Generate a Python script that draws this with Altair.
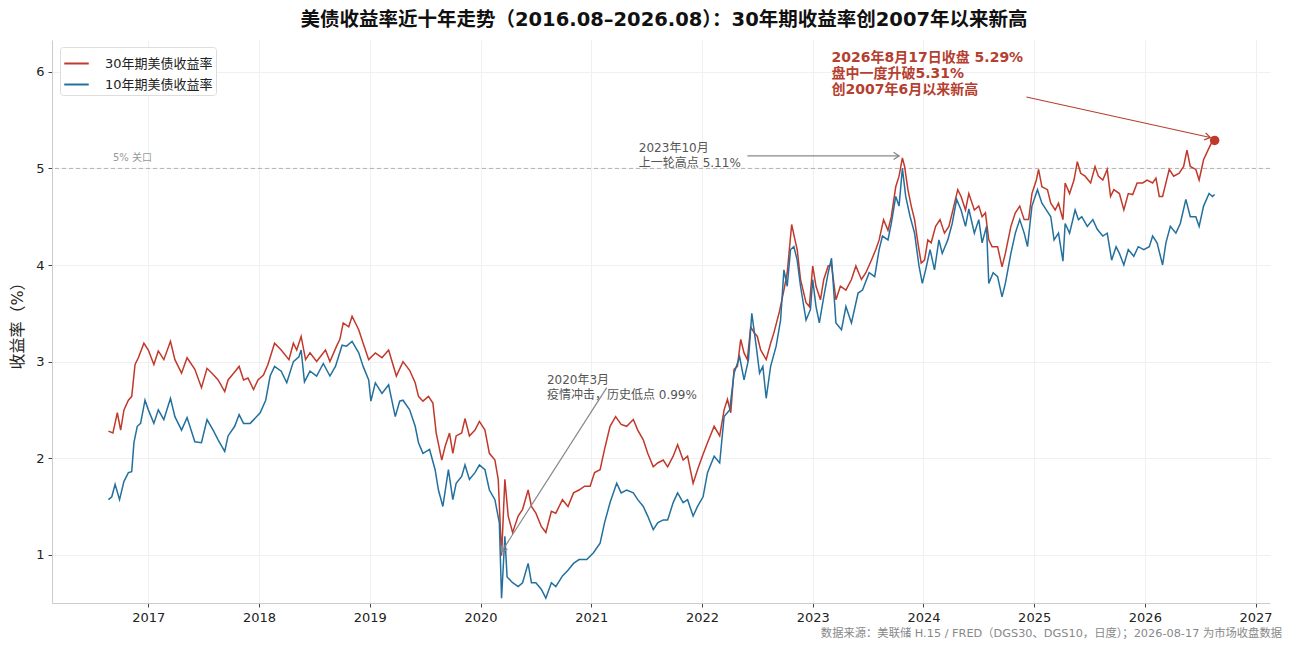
import altair as alt
import pandas as pd

# ---------------- data ----------------
t30 = [2016.64, 2016.68, 2016.72, 2016.75, 2016.78, 2016.82, 2016.85, 2016.88, 2016.91, 2016.96,
       2017.00, 2017.05, 2017.09, 2017.14, 2017.20, 2017.24, 2017.30, 2017.35, 2017.42, 2017.48,
       2017.53, 2017.59, 2017.63, 2017.69, 2017.72, 2017.77, 2017.82, 2017.86, 2017.90, 2017.95,
       2017.99, 2018.04, 2018.08, 2018.14, 2018.20, 2018.27, 2018.31, 2018.34, 2018.38, 2018.42,
       2018.46, 2018.52, 2018.60, 2018.64, 2018.70, 2018.73, 2018.76, 2018.81, 2018.84, 2018.90,
       2018.94, 2018.99, 2019.05, 2019.11, 2019.17, 2019.24, 2019.30, 2019.36, 2019.41, 2019.44,
       2019.48, 2019.53, 2019.57, 2019.60, 2019.65, 2019.68, 2019.72, 2019.75, 2019.78, 2019.83,
       2019.86, 2019.90, 2019.95, 2019.99, 2020.04, 2020.08, 2020.13, 2020.16, 2020.19, 2020.22,
       2020.25, 2020.29, 2020.34, 2020.38, 2020.43, 2020.46, 2020.50, 2020.55, 2020.59, 2020.64,
       2020.68, 2020.74, 2020.79, 2020.84, 2020.89, 2020.94, 2020.99, 2021.03, 2021.08, 2021.12,
       2021.17, 2021.22, 2021.27, 2021.32, 2021.38, 2021.42, 2021.47, 2021.51, 2021.56, 2021.60,
       2021.65, 2021.69, 2021.74, 2021.78, 2021.83, 2021.87, 2021.92, 2021.96, 2022.01, 2022.05,
       2022.11, 2022.16, 2022.20, 2022.23, 2022.26, 2022.29, 2022.32, 2022.35, 2022.38, 2022.41,
       2022.44, 2022.47, 2022.50, 2022.53, 2022.58, 2022.62, 2022.65, 2022.70, 2022.74, 2022.77,
       2022.81, 2022.84, 2022.86, 2022.89, 2022.94, 2022.97, 2023.00, 2023.03, 2023.07, 2023.10,
       2023.14, 2023.17, 2023.21, 2023.25, 2023.30, 2023.35, 2023.39, 2023.44, 2023.48, 2023.53,
       2023.57, 2023.60, 2023.64, 2023.68, 2023.71, 2023.75, 2023.78, 2023.81, 2023.83, 2023.86,
       2023.89, 2023.92, 2023.95, 2023.98, 2024.01, 2024.04, 2024.07, 2024.11, 2024.15, 2024.19,
       2024.23, 2024.26, 2024.31, 2024.34, 2024.38, 2024.41, 2024.46, 2024.50, 2024.53, 2024.56,
       2024.59, 2024.62, 2024.67, 2024.71, 2024.74, 2024.79, 2024.83, 2024.87, 2024.91, 2024.95,
       2024.98, 2025.02, 2025.04, 2025.07, 2025.12, 2025.15, 2025.19, 2025.22, 2025.26, 2025.28,
       2025.32, 2025.36, 2025.39, 2025.42, 2025.46, 2025.51, 2025.55, 2025.58, 2025.62, 2025.66,
       2025.69, 2025.72, 2025.77, 2025.81, 2025.85, 2025.89, 2025.93, 2025.98, 2026.02, 2026.07,
       2026.10, 2026.13, 2026.16, 2026.22, 2026.26, 2026.31, 2026.35, 2026.38, 2026.41, 2026.46,
       2026.49, 2026.53, 2026.57, 2026.60, 2026.63]
y30 = [2.28, 2.26, 2.47, 2.29, 2.50, 2.60, 2.64, 2.97, 3.04, 3.19,
       3.12, 2.97, 3.11, 3.02, 3.21, 3.02, 2.88, 3.04, 2.92, 2.73,
       2.93, 2.86, 2.81, 2.69, 2.81, 2.88, 2.95, 2.81, 2.83, 2.71,
       2.81, 2.86, 2.97, 3.19, 3.12, 3.02, 3.19, 3.12, 3.26, 3.02,
       3.09, 3.00, 3.12, 3.00, 3.16, 3.23, 3.40, 3.36, 3.47, 3.33,
       3.19, 3.02, 3.09, 3.04, 3.12, 2.85, 3.00, 2.91, 2.78, 2.64,
       2.59, 2.64, 2.57, 2.26, 1.98, 2.12, 2.26, 2.05, 2.23, 2.26,
       2.41, 2.23, 2.29, 2.38, 2.29, 2.05, 1.98, 1.78, 0.99, 1.78,
       1.40, 1.23, 1.40, 1.47, 1.67, 1.50, 1.43, 1.29, 1.23, 1.45,
       1.43, 1.57, 1.50, 1.64, 1.67, 1.71, 1.71, 1.85, 1.88, 2.09,
       2.33, 2.43, 2.35, 2.33, 2.40, 2.29, 2.19, 2.05, 1.91, 1.95,
       1.98, 1.91, 2.02, 2.14, 1.98, 2.02, 1.74, 1.88, 2.04, 2.16,
       2.33, 2.23, 2.50, 2.61, 2.47, 2.92, 2.95, 3.23, 3.09, 3.02,
       3.36, 3.30, 3.26, 3.12, 3.02, 3.19, 3.30, 3.52, 3.74, 3.92,
       4.42, 4.26, 4.16, 3.85, 3.61, 3.57, 3.99, 3.78, 3.64, 3.85,
       3.99, 4.00, 3.64, 3.78, 3.74, 3.85, 3.99, 3.85, 3.92, 4.05,
       4.16, 4.26, 4.47, 4.36, 4.50, 4.81, 4.92, 5.11, 5.02, 4.78,
       4.61, 4.47, 4.23, 4.02, 4.05, 4.26, 4.23, 4.40, 4.47, 4.33,
       4.40, 4.54, 4.78, 4.71, 4.57, 4.74, 4.57, 4.61, 4.50, 4.54,
       4.26, 4.19, 4.19, 3.98, 4.12, 4.40, 4.54, 4.61, 4.47, 4.47,
       4.74, 4.88, 4.99, 4.81, 4.78, 4.64, 4.57, 4.64, 4.47, 4.85,
       4.74, 4.88, 5.07, 4.95, 4.92, 4.85, 5.02, 4.92, 4.88, 4.99,
       4.71, 4.78, 4.74, 4.57, 4.74, 4.73, 4.85, 4.85, 4.88, 4.85,
       4.90, 4.71, 4.71, 4.99, 4.92, 4.95, 5.02, 5.19, 5.02, 4.99,
       4.88, 5.09, 5.19, 5.26, 5.29]

t10 = [2016.64, 2016.67, 2016.70, 2016.74, 2016.78, 2016.82, 2016.85, 2016.87, 2016.90, 2016.93,
       2016.97, 2017.00, 2017.05, 2017.09, 2017.14, 2017.20, 2017.24, 2017.30, 2017.35, 2017.42,
       2017.48, 2017.53, 2017.59, 2017.63, 2017.69, 2017.72, 2017.78, 2017.82, 2017.86, 2017.92,
       2017.97, 2018.01, 2018.06, 2018.10, 2018.14, 2018.20, 2018.25, 2018.31, 2018.36, 2018.38,
       2018.41, 2018.46, 2018.52, 2018.58, 2018.64, 2018.69, 2018.75, 2018.79, 2018.84, 2018.90,
       2018.94, 2018.99, 2019.01, 2019.05, 2019.11, 2019.17, 2019.23, 2019.27, 2019.30, 2019.36,
       2019.41, 2019.44, 2019.48, 2019.54, 2019.59, 2019.62, 2019.66, 2019.71, 2019.75, 2019.78,
       2019.83, 2019.86, 2019.90, 2019.95, 2019.99, 2020.04, 2020.08, 2020.13, 2020.17, 2020.19,
       2020.22, 2020.24, 2020.29, 2020.34, 2020.38, 2020.43, 2020.46, 2020.50, 2020.55, 2020.59,
       2020.64, 2020.68, 2020.74, 2020.79, 2020.84, 2020.89, 2020.96, 2021.02, 2021.08, 2021.12,
       2021.17, 2021.23, 2021.27, 2021.32, 2021.38, 2021.42, 2021.47, 2021.51, 2021.56, 2021.60,
       2021.65, 2021.69, 2021.74, 2021.78, 2021.83, 2021.87, 2021.92, 2021.96, 2022.01, 2022.05,
       2022.11, 2022.16, 2022.20, 2022.25, 2022.29, 2022.34, 2022.38, 2022.42, 2022.45, 2022.49,
       2022.52, 2022.55, 2022.58, 2022.62, 2022.67, 2022.71, 2022.74, 2022.77, 2022.80, 2022.83,
       2022.86, 2022.89, 2022.94, 2022.98, 2023.00, 2023.03, 2023.06, 2023.10, 2023.14, 2023.17,
       2023.21, 2023.26, 2023.30, 2023.35, 2023.41, 2023.45, 2023.51, 2023.56, 2023.60, 2023.63,
       2023.68, 2023.71, 2023.75, 2023.78, 2023.81, 2023.84, 2023.88, 2023.92, 2023.96, 2023.99,
       2024.02, 2024.06, 2024.10, 2024.14, 2024.17, 2024.22, 2024.26, 2024.30, 2024.34, 2024.38,
       2024.41, 2024.46, 2024.50, 2024.53, 2024.57, 2024.59, 2024.63, 2024.67, 2024.71, 2024.74,
       2024.79, 2024.83, 2024.87, 2024.91, 2024.94, 2024.98, 2025.03, 2025.07, 2025.11, 2025.15,
       2025.18, 2025.22, 2025.26, 2025.28, 2025.32, 2025.37, 2025.40, 2025.43, 2025.48, 2025.53,
       2025.57, 2025.62, 2025.66, 2025.70, 2025.74, 2025.77, 2025.81, 2025.85, 2025.90, 2025.94,
       2025.99, 2026.04, 2026.07, 2026.11, 2026.16, 2026.19, 2026.23, 2026.28, 2026.32, 2026.37,
       2026.41, 2026.46, 2026.49, 2026.53, 2026.58, 2026.61, 2026.63]
y10 = [1.57, 1.60, 1.73, 1.57, 1.76, 1.85, 1.86, 2.16, 2.33, 2.36,
       2.60, 2.50, 2.36, 2.50, 2.40, 2.62, 2.43, 2.29, 2.42, 2.17,
       2.16, 2.40, 2.28, 2.19, 2.07, 2.23, 2.33, 2.45, 2.36, 2.36,
       2.42, 2.47, 2.60, 2.85, 2.95, 2.90, 2.78, 3.00, 3.05, 3.12,
       2.79, 2.90, 2.85, 2.98, 2.85, 2.95, 3.17, 3.16, 3.21, 3.09,
       2.95, 2.81, 2.59, 2.78, 2.67, 2.76, 2.43, 2.59, 2.60, 2.50,
       2.33, 2.16, 2.05, 2.09, 1.88, 1.67, 1.50, 1.88, 1.57, 1.74,
       1.81, 1.93, 1.78, 1.85, 1.93, 1.88, 1.67, 1.57, 1.33, 0.55,
       1.19, 0.77, 0.71, 0.67, 0.71, 0.91, 0.71, 0.71, 0.64, 0.55,
       0.71, 0.67, 0.78, 0.84, 0.91, 0.95, 0.95, 1.02, 1.12, 1.33,
       1.54, 1.74, 1.64, 1.67, 1.64, 1.57, 1.50, 1.40, 1.26, 1.33,
       1.36, 1.36, 1.54, 1.64, 1.54, 1.57, 1.40, 1.50, 1.60, 1.85,
       2.02, 1.95, 2.43, 2.50, 2.88, 3.05, 2.81, 3.02, 3.50, 3.16,
       2.88, 2.95, 2.62, 2.95, 3.16, 3.43, 3.95, 3.78, 4.16, 4.19,
       4.05, 3.78, 3.43, 3.54, 3.85, 3.57, 3.40, 3.67, 3.92, 4.07,
       3.40, 3.33, 3.57, 3.40, 3.71, 3.74, 3.92, 3.88, 4.16, 4.30,
       4.26, 4.43, 4.71, 4.61, 5.00, 4.71, 4.50, 4.33, 3.99, 3.81,
       3.95, 4.16, 3.95, 4.26, 4.12, 4.26, 4.43, 4.68, 4.57, 4.40,
       4.58, 4.33, 4.47, 4.23, 4.40, 3.81, 3.92, 3.88, 3.67, 3.81,
       4.12, 4.33, 4.47, 4.33, 4.19, 4.61, 4.78, 4.64, 4.57, 4.50,
       4.26, 4.33, 4.04, 4.43, 4.33, 4.57, 4.47, 4.50, 4.40, 4.47,
       4.37, 4.30, 4.33, 4.05, 4.19, 4.12, 4.00, 4.16, 4.09, 4.19,
       4.16, 4.19, 4.30, 4.23, 4.00, 4.23, 4.40, 4.33, 4.43, 4.68,
       4.50, 4.50, 4.40, 4.61, 4.74, 4.71, 4.73]

series_names = ["30年期美债收益率", "10年期美债收益率"]
series_colors = ["#c0392b", "#23709e"]
year_ticks = list(range(2017, 2028))
y_ticks = [1, 2, 3, 4, 5, 6]

title_text = "美债收益率近十年走势（2016.08–2026.08）：30年期收益率创2007年以来新高"
source_text = "数据来源：美联储 H.15 / FRED（DGS30、DGS10，日度）；2026-08-17 为市场收盘数据"
threshold = 5.0
threshold_label = "5% 关口"

peak_2023_lines = ["2023年10月", "上一轮高点 5.11%"]
low_2020_lines = ["2020年3月", "疫情冲击，历史低点 0.99%"]
latest_lines = ["2026年8月17日收盘 5.29%", "盘中一度升破5.31%", "创2007年6月以来新高"]
latest_point = (2026.63, 5.29)

FONT = "'DejaVu Sans', 'Noto Sans CJK SC', sans-serif"
RED_TXT = "#b5402f"
GREY_TXT = "#555555"

# ---------------- scales ----------------
xs = alt.Scale(domain=[2016.13, 2027.13], nice=False, zero=False)
ys = alt.Scale(domain=[0.5, 6.33], nice=False, zero=False)
cs = alt.Scale(domain=series_names, range=series_colors)

df30 = pd.DataFrame({"t": t30, "v": y30, "series": series_names[0]})
df10 = pd.DataFrame({"t": t10, "v": y10, "series": series_names[1]})

xaxis = alt.Axis(values=year_ticks, format="d", title=None, labelFontSize=13, labelFont=FONT,
                 labelColor="#222", tickSize=4, tickColor="#444", domainColor="#cccccc",
                 gridColor="#f0f0f0", labelPadding=4)
yaxis = alt.Axis(values=y_ticks, format="d", title="收益率（%）", titleFontSize=16,
                 titleFont=FONT, titleFontWeight="normal", titleColor="#222", titlePadding=10,
                 labelFontSize=13, labelFont=FONT, labelColor="#222", tickSize=4,
                 tickColor="#444", domainColor="#cccccc", gridColor="#f0f0f0", labelPadding=4)

legend = alt.Legend(title=None, orient="none", legendX=8, legendY=7, symbolType="stroke",
                    symbolSize=600, symbolStrokeWidth=2, labelFontSize=13, labelFont=FONT,
                    labelColor="#222", strokeColor="#dddddd", fillColor="white", cornerRadius=3,
                    padding=3, rowPadding=0, labelOffset=15)

line30 = alt.Chart(df30).mark_line(strokeWidth=1.5).encode(
    x=alt.X("t:Q", scale=xs, axis=xaxis),
    y=alt.Y("v:Q", scale=ys, axis=yaxis),
    color=alt.Color("series:N", scale=cs, legend=legend),
)
line10 = alt.Chart(df10).mark_line(strokeWidth=1.5).encode(
    x=alt.X("t:Q", scale=xs),
    y=alt.Y("v:Q", scale=ys),
    color=alt.Color("series:N", scale=cs, legend=legend),
)

# threshold line
thr = alt.Chart(pd.DataFrame({"v": [threshold]})).mark_rule(
    color="#aaaaaa", strokeDash=[4, 3], strokeWidth=0.9).encode(y=alt.Y("v:Q", scale=ys))
thr_lbl = alt.Chart(pd.DataFrame({"t": [2016.68], "v": [5.11], "s": [threshold_label]})).mark_text(
    align="left", baseline="middle", fontSize=10, color="#999999", font=FONT).encode(
    x=alt.X("t:Q", scale=xs), y=alt.Y("v:Q", scale=ys), text="s:N")

# annotation texts
ann = pd.DataFrame({
    "t": [2021.43, 2021.43, 2020.60, 2020.60],
    "v": [5.213, 5.058, 2.812, 2.656],
    "s": peak_2023_lines + low_2020_lines,
})
ann_txt = alt.Chart(ann).mark_text(align="left", baseline="middle", fontSize=12,
                                   color=GREY_TXT, font=FONT).encode(
    x=alt.X("t:Q", scale=xs), y=alt.Y("v:Q", scale=ys), text="s:N")

red_ann = pd.DataFrame({"t": [2023.17] * 3, "v": [6.145, 5.979, 5.814], "s": latest_lines})
red_txt = alt.Chart(red_ann).mark_text(align="left", baseline="middle", fontSize=14,
                                       fontWeight="bold", color=RED_TXT, font=FONT).encode(
    x=alt.X("t:Q", scale=xs), y=alt.Y("v:Q", scale=ys), text="s:N")

# arrows (shaft + open head)
arrows = pd.DataFrame({
    "t1": [2022.41, 2021.14, 2024.93],
    "v1": [5.13, 2.73, 5.74],
    "t2": [2023.78, 2020.19, 2026.59],
    "v2": [5.13, 1.03, 5.32],
    "ang": [0, 122.6, 12.5],
    "c": ["#888888", "#888888", "#b5402f"],
})
shafts = alt.Chart(arrows).mark_rule(strokeWidth=1.2).encode(
    x=alt.X("t1:Q", scale=xs), y=alt.Y("v1:Q", scale=ys),
    x2="t2:Q", y2="v2:Q", color=alt.Color("c:N", scale=None))
heads = alt.Chart(arrows).mark_point(shape="M-1,-0.65L0,0L-1,0.65", filled=False, size=120,
                                     strokeWidth=1.3, opacity=1).encode(
    x=alt.X("t2:Q", scale=xs), y=alt.Y("v2:Q", scale=ys),
    angle=alt.Angle("ang:Q", scale=None), color=alt.Color("c:N", scale=None))

dot = alt.Chart(pd.DataFrame({"t": [latest_point[0]], "v": [latest_point[1]]})).mark_circle(
    size=90, color="#c0392b", opacity=1).encode(x=alt.X("t:Q", scale=xs), y=alt.Y("v:Q", scale=ys))

# title & source (outside plot area)
title = alt.Chart(pd.DataFrame({"s": [title_text]})).mark_text(
    align="center", baseline="middle", fontSize=19.5, fontWeight="bold", color="#111", font=FONT).encode(
    x=alt.value(612), y=alt.value(-20), text="s:N")
source = alt.Chart(pd.DataFrame({"s": [source_text]})).mark_text(
    align="right", baseline="middle", fontSize=11.3, color="#888888", font=FONT).encode(
    x=alt.value(1230), y=alt.value(594), text="s:N")

chart = alt.layer(thr, line30, line10, thr_lbl, ann_txt, red_txt, shafts, heads, dot, title, source
).properties(
    width=1218, height=563,
    padding={"left": 44, "top": 32, "right": 13, "bottom": 37},
    autosize=alt.AutoSizeParams(type="none"),
    background="white",
).configure_view(strokeWidth=0)

chart.save("out.html", embed_options={"renderer": "svg", "actions": False})
